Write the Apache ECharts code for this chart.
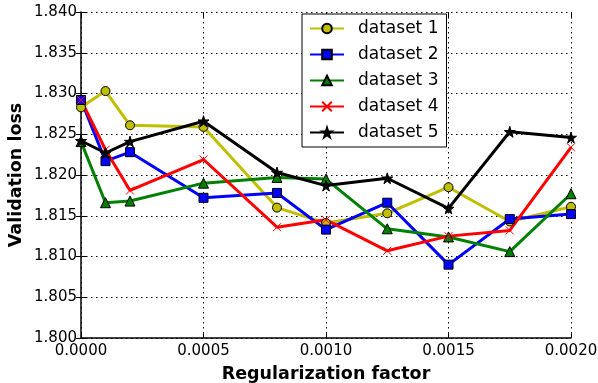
<html>
<head>
<meta charset="utf-8">
<script src="https://cdn.jsdelivr.net/npm/echarts@6/dist/echarts.min.js"></script>
<style>
    html, body { margin: 0; padding: 0; background: #fff; }
    #main { width: 598px; height: 383px; }
</style>
</head>
<body>
<div id="main"></div>
<script>
    // regularization factors (x)
    var factors = [0, 0.0001, 0.0002, 0.0005, 0.0008, 0.001, 0.00125, 0.0015, 0.00175, 0.002];

    var names = ['dataset 1', 'dataset 2', 'dataset 3', 'dataset 4', 'dataset 5'];

    var dataset1 = [1.8283, 1.8303, 1.8261, 1.8259, 1.8160, 1.8141, 1.8153, 1.8185, 1.8143, 1.8161];
    var dataset2 = [1.8292, 1.8217, 1.8228, 1.8172, 1.8178, 1.8133, 1.8166, 1.8090, 1.8146, 1.8152];
    var dataset3 = [1.8241, 1.8166, 1.8168, 1.8190, 1.8197, 1.8195, 1.8134, 1.8124, 1.8106, 1.8177];
    var dataset4 = [1.8292, 1.8231, 1.8181, 1.8219, 1.8136, 1.8145, 1.8107, 1.8125, 1.8132, 1.8234];
    var dataset5 = [1.8242, 1.8227, 1.8241, 1.8266, 1.8203, 1.8187, 1.8196, 1.8159, 1.8253, 1.8246];

    var colors = ['#bfbf00', '#0000ff', '#008000', '#ff0000', '#000000'];

    var starPath = 'path://M50,0 L61,35 L98,35 L68,57 L79,91 L50,70 L21,91 L32,57 L2,35 L39,35 Z';
    var crossPath = 'path://M0,0 L10,10 M10,0 L0,10';

    function pairs(vals) {
        var out = [];
        for (var i = 0; i < factors.length; i++) out.push([factors[i], vals[i]]);
        return out;
    }

    function makeSeries(idx, vals, symbol, size, fill, edge, edgeW) {
        return {
            name: names[idx],
            type: 'line',
            xAxisIndex: 0,
            yAxisIndex: 0,
            data: pairs(vals),
            symbol: symbol,
            symbolSize: size,
            showAllSymbol: true,
            animation: false,
            lineStyle: { color: colors[idx], width: 3 },
            itemStyle: { color: fill, borderColor: edge, borderWidth: edgeW },
            emphasis: { disabled: true }
        };
    }

    var chart = echarts.init(document.getElementById('main'));

    var tickLabel = { fontFamily: 'DejaVu Sans', fontSize: 15, color: '#000' };
    var nameStyle = { fontFamily: 'DejaVu Sans', fontSize: 17.5, fontWeight: 'bold', color: '#000' };
    var gridDots = { color: '#000', width: 1, type: [1.5, 3.5] };
    var ticks = { show: true, inside: true, length: 5, lineStyle: { color: '#000', width: 1 } };

    var option = {
        backgroundColor: '#fff',
        animation: false,
        grid: { left: 81, right: 27, top: 12, bottom: 45, containLabel: false, outerBoundsMode: 'none' },
        legend: {
            left: 302,
            top: 14,
            orient: 'vertical',
            backgroundColor: '#fff',
            borderColor: '#000',
            borderWidth: 1,
            borderRadius: 0,
            padding: [6, 8, 6, 7],
            itemWidth: 34,
            itemHeight: 12,
            itemGap: 9,
            textStyle: { fontFamily: 'DejaVu Sans', fontSize: 17, color: '#000', padding: [0, 0, 0, 9] },
            data: names
        },
        xAxis: [{
            type: 'value',
            min: 0,
            max: 0.002,
            interval: 0.0005,
            name: 'Regularization factor',
            nameLocation: 'middle',
            nameGap: 27,
            nameTextStyle: nameStyle,
            axisLine: { show: true, onZero: false, lineStyle: { color: '#000', width: 1.5 } },
            axisTick: ticks,
            axisLabel: Object.assign({ margin: 6, formatter: function (v) { return v.toFixed(4); } }, tickLabel),
            splitLine: { show: true, lineStyle: gridDots }
        }, {
            type: 'value',
            position: 'top',
            min: 0,
            max: 0.002,
            interval: 0.0005,
            axisLine: { show: false },
            axisTick: ticks,
            axisLabel: { show: false },
            splitLine: { show: false }
        }],
        yAxis: [{
            type: 'value',
            min: 1.8,
            max: 1.84,
            interval: 0.005,
            name: 'Validation loss',
            nameLocation: 'middle',
            nameGap: 56,
            nameMoveOverlap: false,
            nameTextStyle: nameStyle,
            axisLine: { show: true, onZero: false, lineStyle: { color: '#000', width: 1.5 } },
            axisTick: ticks,
            axisLabel: Object.assign({ margin: 4, formatter: function (v) { return v.toFixed(3); } }, tickLabel),
            splitLine: { show: true, lineStyle: gridDots }
        }, {
            type: 'value',
            position: 'right',
            min: 1.8,
            max: 1.84,
            interval: 0.005,
            axisLine: { show: false },
            axisTick: ticks,
            axisLabel: { show: false },
            splitLine: { show: false }
        }],
        series: [
            makeSeries(0, dataset1, 'circle', 9, '#bfbf00', '#000', 1),
            makeSeries(1, dataset2, 'rect', 9, '#0000ff', '#000', 1),
            makeSeries(2, dataset3, 'triangle', 10, '#008000', '#000', 1),
            makeSeries(3, dataset4, crossPath, 8, 'rgba(0,0,0,0)', '#ff0000', 1),
            makeSeries(4, dataset5, starPath, 11, '#000000', '#000', 1)
        ]
    };

    chart.setOption(option);
</script>
</body>
</html>
